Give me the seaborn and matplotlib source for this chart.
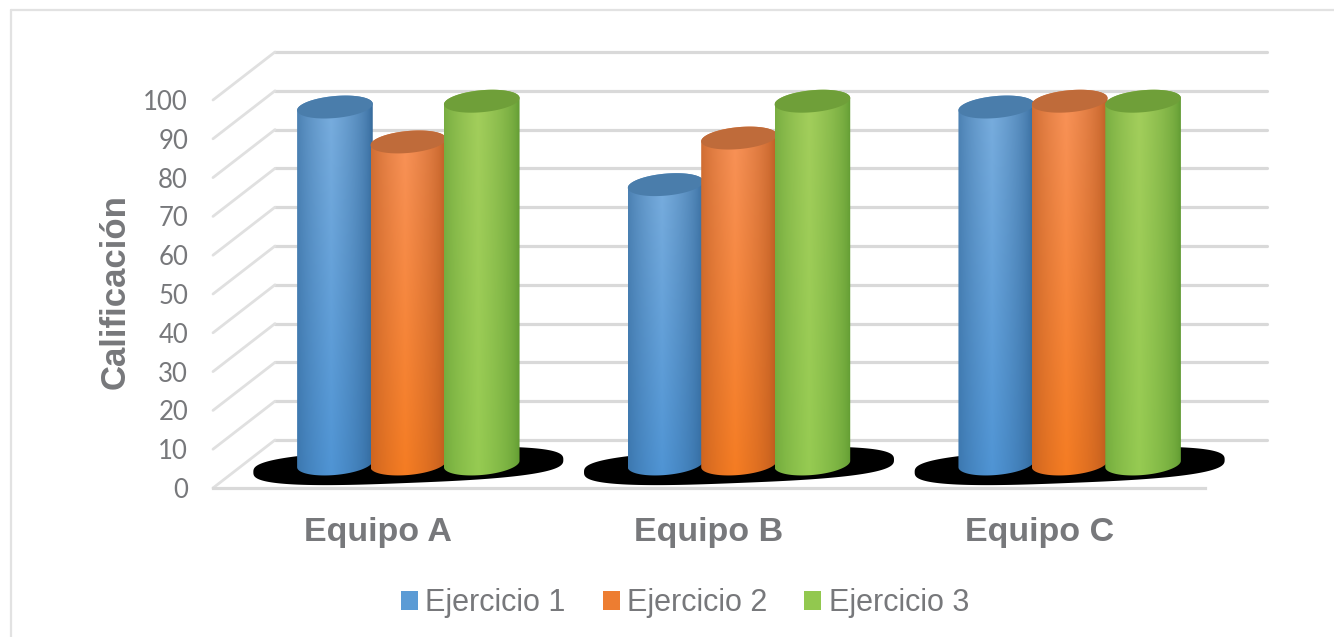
import numpy as np
import pandas as pd
import matplotlib
matplotlib.use("Agg")
import matplotlib.pyplot as plt
from matplotlib.colors import to_rgb
from matplotlib.lines import Line2D
from matplotlib.patches import Patch, PathPatch, Polygon
from matplotlib.path import Path
from matplotlib.transforms import IdentityTransform
import seaborn as sns

categories = ["Equipo A", "Equipo B", "Equipo C"]
series_names = ["Ejercicio 1", "Ejercicio 2", "Ejercicio 3"]
ejercicio_1 = [92, 72, 92]
ejercicio_2 = [83, 84, 93.5]
ejercicio_3 = [93.5, 93.5, 93.5]
y_ticks = list(range(0, 101, 10))

mid_colors = ["#5b9bd5", "#ed7d31", "#92c84f"]
top_light = ["#7aaede", "#f8935a", "#a3ce5c"]
bottom_light = ["#4f94d4", "#f57c22", "#96cb52"]
edge_dark = ["#2f6496", "#b5561d", "#5d9830"]
cap_colors = ["#4a7dab", "#bf6b3a", "#6f9f39"]
GRID = "#d9d9d9"
TEXT = "#77787b"

W, H = 1334, 637
sns.set_theme(style="white")
plt.rcParams["font.family"] = ["Liberation Sans", "DejaVu Sans"]

fig = plt.figure(figsize=(W / 100, H / 100), dpi=100)
fig.patch.set_facecolor("white")


def px_axes(left, top, right, bottom, z, ymin=0):
    a = fig.add_axes([left / W, 1 - bottom / H, (right - left) / W, (bottom - top) / H])
    a.set_zorder(z)
    a.patch.set_alpha(0)
    a.set_xlim(-0.5, 2.5)
    a.set_ylim(ymin, 100)
    return a


ax_back = px_axes(275, 52, 1267, 440, 0)
ax_front = px_axes(213, 100, 1205, 488, 1)
ax_bar = px_axes(243, 76, 1235, 502.8, 2, ymin=-10)

# chart border
fig.add_artist(Line2D([11 / W, 11 / W], [0, 1 - 10 / H], color="#e2e2e2", lw=1.6,
                      transform=fig.transFigure))
fig.add_artist(Line2D([11 / W, 1], [1 - 10 / H, 1 - 10 / H], color="#e2e2e2", lw=1.6,
                      transform=fig.transFigure))

# back wall
ax_back.set_yticks(y_ticks)
ax_back.set_xticks([])
ax_back.tick_params(left=False, labelleft=False)
ax_back.yaxis.grid(True, color=GRID, lw=2.3)
for gl in ax_back.get_ygridlines():
    gl.set_clip_on(False)
sns.despine(ax=ax_back, left=True, bottom=True, top=True, right=True)

# front plane: ticks, labels, floor
ax_front.set_yticks(y_ticks)
ax_front.set_xticks(range(len(categories)))
ax_front.set_xticklabels(categories, fontsize=24.5, fontweight="bold", color=TEXT)
ax_front.tick_params(axis="x", length=0, pad=21)
ax_front.tick_params(axis="y", length=0, pad=18, labelsize=18.5, labelcolor=TEXT)
for lab in ax_front.get_yticklabels():
    lab.set_family(["Lato", "DejaVu Sans"])
ax_front.set_ylabel("Calificación", fontsize=25, fontweight="bold", color=TEXT)
ax_front.yaxis.set_label_coords(-0.082, 0.505)
sns.despine(ax=ax_front, left=True, top=True, right=True)
ax_front.spines["bottom"].set_color(GRID)
ax_front.spines["bottom"].set_linewidth(2.3)

# side wall diagonals, joining each tick on the front plane to the back wall
for v in y_ticks:
    p0 = ax_front.transData.transform((-0.5, v))
    p1 = ax_back.transData.transform((-0.5, v))
    fig.add_artist(Line2D([p0[0], p1[0]], [p0[1], p1[1]], color="#e0e0e0", lw=2.0,
                          transform=IdentityTransform(), zorder=0.5))

# bars
df = pd.DataFrame({
    "equipo": categories * 3,
    "serie": np.repeat(series_names, 3),
    "valor": ejercicio_1 + ejercicio_2 + ejercicio_3,
})
sns.barplot(data=df, x="equipo", y="valor", hue="serie", order=categories,
            hue_order=series_names, palette=mid_colors, width=0.666, gap=0,
            legend=False, ax=ax_bar, errorbar=None)
ax_bar.axis("off")

ppx = 3 / 992        # data x per pixel
ppy = 100 / 388      # data y per pixel
RY = 11 * ppy
SLOPE = 0.085 * ppy / ppx

# floor shadows
t = np.linspace(0, 2 * np.pi, 200)
for i in range(len(categories)):
    cx, cy = float(i), -0.5
    n = 2.8
    xx = np.sign(np.cos(t)) * np.abs(np.cos(t)) ** (2 / n) * 155 * ppx
    yy = np.sign(np.sin(t)) * np.abs(np.sin(t)) ** (2 / n) * 17 * ppy
    pts = np.column_stack([cx + xx, cy + yy + xx * 0.04 * ppy / ppx])
    ax_bar.add_patch(Polygon(pts, closed=True, fc="black", ec="none", zorder=1))

for s, cont in enumerate(ax_bar.containers):
    for rect in cont:
        rect.set_facecolor("none")
        rect.set_linewidth(0)
        x0, w0, h = rect.get_x(), rect.get_width(), rect.get_height()
        xc = x0 + w0 / 2
        rx = w0 / 2 * 1.03
        z = 3 + s * 0.1

        th = np.linspace(np.pi, 2 * np.pi, 60)
        bx = xc + rx * np.cos(th)
        bottom_arc = np.column_stack([bx, RY * np.sin(th) + (bx - xc) * SLOPE])
        th2 = np.linspace(0, np.pi, 60)
        tx = xc + rx * np.cos(th2)
        top_arc = np.column_stack([tx, h + RY * np.sin(th2) + (tx - xc) * SLOPE])
        body = np.vstack([bottom_arc, top_arc, bottom_arc[:1]])

        nx, ny = 120, 80
        u = np.linspace(-1, 1, nx)
        prof = np.clip(1 - np.abs(u + 0.1) / 1.1, 0, 1) ** 0.55
        v = np.linspace(0, 1, ny)[:, None]
        base = np.array(to_rgb(top_light[s]))[None, None, :] * (1 - v[..., None]) + \
            np.array(to_rgb(bottom_light[s]))[None, None, :] * v[..., None]
        edge = np.array(to_rgb(edge_dark[s]))[None, None, :]
        img = edge * (1 - prof[None, :, None]) + base * prof[None, :, None]
        im = ax_bar.imshow(img, extent=(xc - rx, xc + rx, -RY * 1.5, h + RY * 1.5),
                           aspect="auto", origin="upper", zorder=z, interpolation="bilinear")
        im.set_clip_path(PathPatch(Path(body), transform=ax_bar.transData, fc="none", ec="none"))

        th3 = np.linspace(0, 2 * np.pi, 120)
        cx3 = xc + rx * np.cos(th3)
        cap = np.column_stack([cx3, h + RY * np.sin(th3) + (cx3 - xc) * SLOPE])
        ax_bar.add_patch(Polygon(cap, closed=True, fc=cap_colors[s], ec="none", zorder=z + 0.01))

ax_bar.set_xlim(-0.5, 2.5)
ax_bar.set_ylim(-10, 100)

# legend
handles = [Patch(fc=c, ec="none", label=n) for c, n in zip(mid_colors, series_names)]
leg = ax_front.legend(handles=handles, loc="center", bbox_to_anchor=(685 / W, 1 - 603 / H),
                      bbox_transform=fig.transFigure, ncol=3, frameon=False, fontsize=22,
                      handlelength=0.56, handleheight=0.56, handletextpad=0.25,
                      columnspacing=1.2, labelcolor=TEXT)

fig.savefig("out.png", dpi=100, facecolor="white")
